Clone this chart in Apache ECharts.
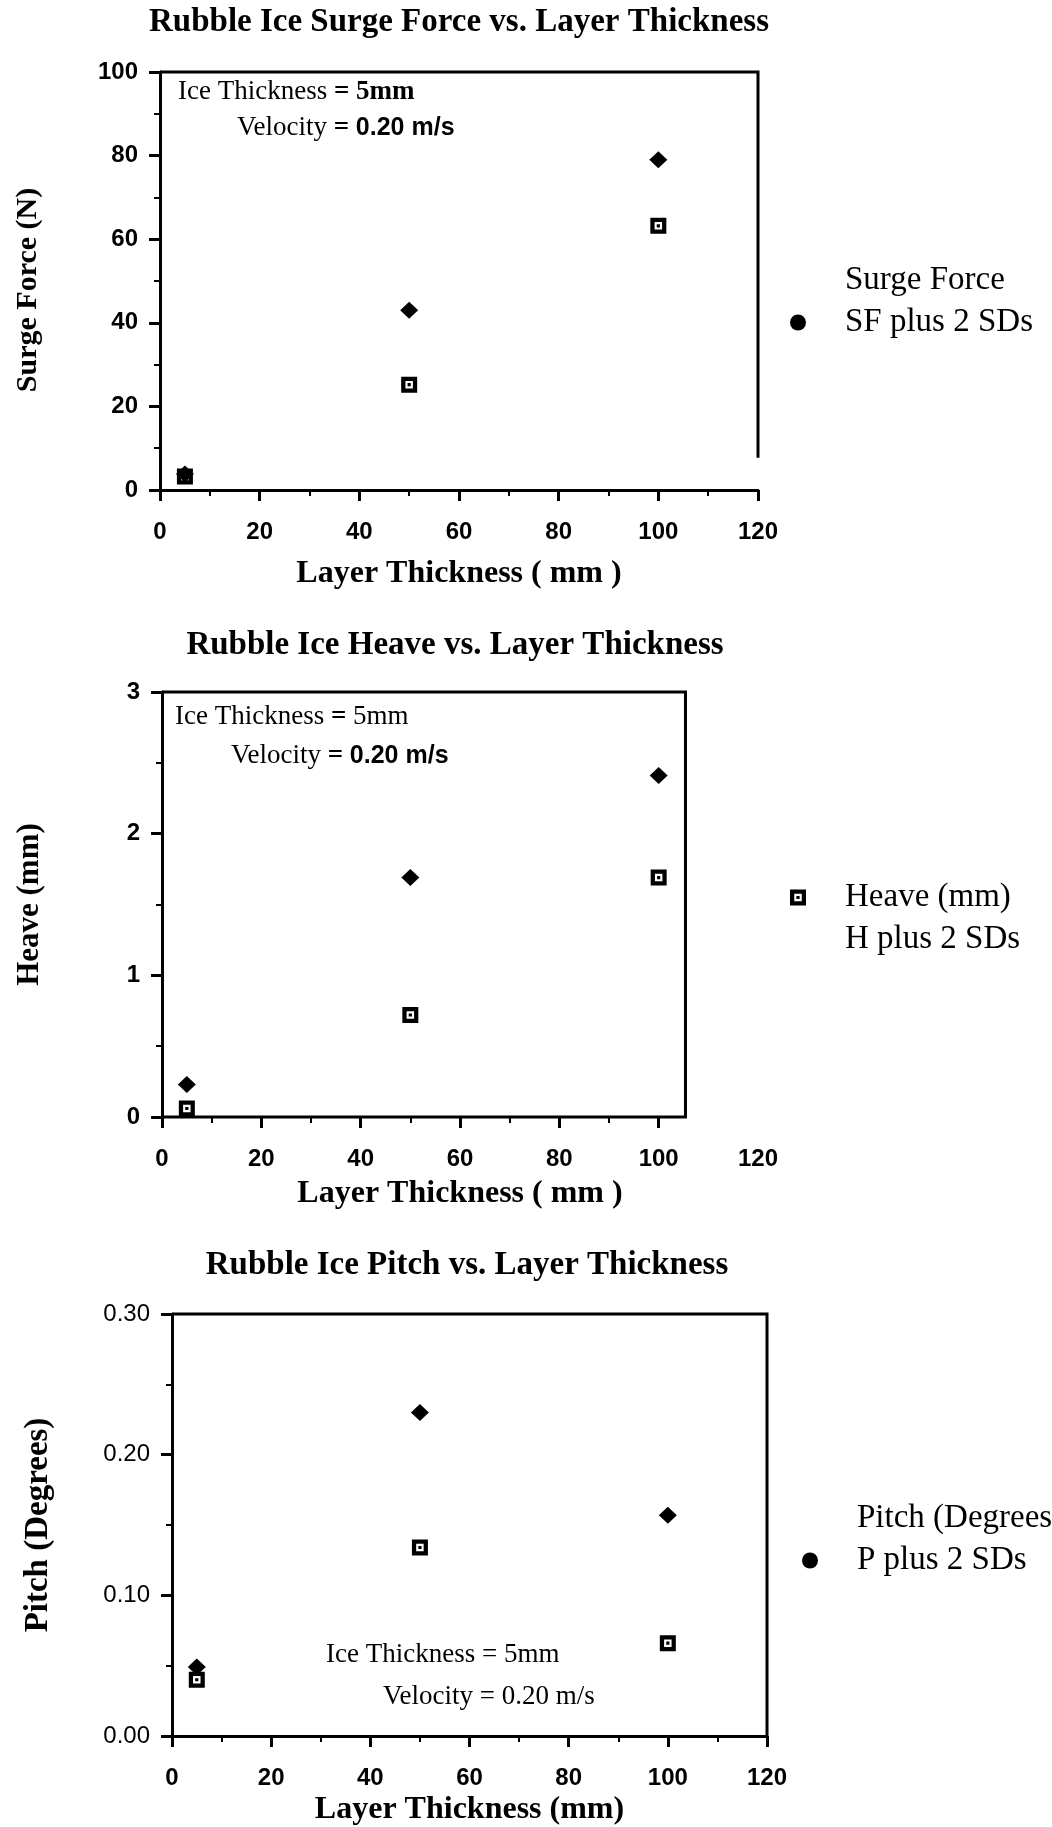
<!DOCTYPE html>
<html>
<head>
<meta charset="utf-8">
<script src="https://cdn.jsdelivr.net/npm/echarts@6/dist/echarts.min.js"></script>
<style>
  html, body { margin: 0; padding: 0; background: #fff; }
  #main { width: 1052px; height: 1827px; }
</style>
</head>
<body>
<div id="main"></div>
<script>
// values
const layerThickness = [5, 50, 100];
const surgeForce = [3.2, 25.2, 63.2];
const surgeForcePlus2SD = [3.8, 43, 79];
const heave = [0.06, 0.72, 1.69];
const heavePlus2SD = [0.23, 1.69, 2.41];
const pitch = [0.040, 0.134, 0.066];
const pitchPlus2SD = [0.049, 0.230, 0.157];

const heaveMajorTicks = [0, 20, 40, 60, 80, 100];
const heaveMinorTicks = [10, 30, 50, 70, 90];

const SERIF = "'Liberation Serif', 'Times New Roman', serif";
const SANS = "'Liberation Sans', Arial, sans-serif";
// open square with a dot in the middle
const SQUARE = 'path://M0 0H15V15H0Z M4 4V11H11V4Z M6 6H9V9H6Z';

const pairs = (xs, ys) => xs.map((x, i) => [x, ys[i]]);

function xAxisBase(grid, name, nameGap) {
    return {
        type: 'value', gridIndex: grid, min: 0, max: 120, interval: 20,
        axisLine: { lineStyle: { color: '#000', width: 3 } },
        axisTick: { length: 11, lineStyle: { color: '#000', width: 3 } },
        minorTick: { show: true, splitNumber: 2, length: 6, lineStyle: { color: '#000', width: 2 } },
        splitLine: { show: false },
        axisLabel: { margin: 30, color: '#000', fontFamily: SANS, fontWeight: 'bold', fontSize: 24 },
        name: name, nameLocation: 'middle', nameGap: nameGap,
        nameTextStyle: { color: '#000', fontFamily: SERIF, fontWeight: 'bold', fontSize: 32 }
    };
}

function yAxisBase(grid, max, interval, name, labelWeight, nameSize) {
    return {
        type: 'value', gridIndex: grid, min: 0, max: max, interval: interval,
        axisLine: { show: true, lineStyle: { color: '#000', width: 3 } },
        axisTick: { show: true, length: 11, lineStyle: { color: '#000', width: 3 } },
        minorTick: { show: true, splitNumber: 2, length: 6, lineStyle: { color: '#000', width: 2 } },
        splitLine: { show: false },
        axisLabel: { margin: 22, color: '#000', fontFamily: SANS, fontWeight: labelWeight, fontSize: 24 },
        name: name, nameLocation: 'middle', nameGap: 117,
        nameTextStyle: { color: '#000', fontFamily: SERIF, fontWeight: 'bold', fontSize: nameSize }
    };
}

function legendBase(left, top, items) {
    return {
        orient: 'vertical', left: left, top: top, itemWidth: 16, itemHeight: 16, itemGap: 9,
        selectedMode: false, data: items,
        textStyle: { color: '#000', fontFamily: SERIF, fontSize: 33, lineHeight: 33, padding: [0, 0, 0, 34] }
    };
}

function titleBase(text, center, top) {
    return {
        text: text, left: center, top: top, textAlign: 'center', padding: 0,
        textStyle: { color: '#000', fontFamily: SERIF, fontWeight: 'bold', fontSize: 33 }
    };
}

const squareStyle = { symbol: SQUARE, symbolSize: 16, itemStyle: { color: '#000', opacity: 1 } };
const diamondStyle = { symbol: 'diamond', symbolSize: [18, 17], itemStyle: { color: '#000', opacity: 1 } };

const surgeY = yAxisBase(0, 100, 20, 'Surge Force (N)', 'bold', 30);
surgeY.nameTextStyle.padding = [0, 18, 0, 0];

const heaveX = xAxisBase(1, 'Layer Thickness ( mm )', 61);
heaveX.axisLine = { show: false };
heaveX.minorTick = { show: false };
heaveX.axisTick = { length: 11, lineStyle: { color: '#000', width: 3 }, customValues: heaveMajorTicks };
const heaveMinorX = {
    type: 'value', gridIndex: 1, min: 0, max: 120, position: 'bottom',
    axisLine: { show: false }, axisLabel: { show: false }, splitLine: { show: false },
    axisTick: { length: 6, lineStyle: { color: '#000', width: 2 }, customValues: heaveMinorTicks }
};

const pitchY = yAxisBase(2, 0.3, 0.1, 'Pitch (Degrees)', 'normal', 33);
pitchY.axisLabel.formatter = v => v.toFixed(2);

const chart = echarts.init(document.getElementById('main'));
chart.setOption({
    animation: false,
    backgroundColor: '#fff',
    title: [
        titleBase('Rubble Ice Surge Force vs. Layer Thickness', 459, 6),
        titleBase('Rubble Ice Heave vs. Layer Thickness', 455, 629),
        titleBase('Rubble Ice Pitch vs. Layer Thickness', 467, 1249)
    ],
    grid: [
        { left: 160, top: 72, width: 598, height: 418 },
        { left: 162, top: 692, width: 596, height: 425 },
        { left: 172, top: 1314, width: 595, height: 424 }
    ],
    xAxis: [
        xAxisBase(0, 'Layer Thickness ( mm )', 68),
        heaveX,
        xAxisBase(2, 'Layer Thickness (mm)', 58),
        heaveMinorX
    ],
    yAxis: [
        surgeY,
        yAxisBase(1, 3, 1, 'Heave (mm)', 'bold', 31),
        pitchY
    ],
    legend: [
        legendBase(785, 259, [
            { name: 'Surge Force', icon: 'none' },
            { name: 'SF plus 2 SDs', icon: 'circle' }
        ]),
        legendBase(785, 876, [
            { name: 'Heave (mm)', icon: SQUARE },
            { name: 'H plus 2 SDs', icon: 'none' }
        ]),
        legendBase(797, 1497, [
            { name: 'Pitch (Degrees', icon: 'none' },
            { name: 'P plus 2 SDs', icon: 'circle' }
        ])
    ],
    series: [
        Object.assign({ type: 'scatter', name: 'Surge Force', xAxisIndex: 0, yAxisIndex: 0, data: pairs(layerThickness, surgeForce) }, squareStyle),
        Object.assign({ type: 'scatter', name: 'SF plus 2 SDs', xAxisIndex: 0, yAxisIndex: 0, data: pairs(layerThickness, surgeForcePlus2SD) }, diamondStyle),
        Object.assign({ type: 'scatter', name: 'Heave (mm)', xAxisIndex: 1, yAxisIndex: 1, data: pairs(layerThickness, heave) }, squareStyle),
        Object.assign({ type: 'scatter', name: 'H plus 2 SDs', xAxisIndex: 1, yAxisIndex: 1, data: pairs(layerThickness, heavePlus2SD) }, diamondStyle),
        Object.assign({ type: 'scatter', name: 'Pitch (Degrees', xAxisIndex: 2, yAxisIndex: 2, data: pairs(layerThickness, pitch) }, squareStyle),
        Object.assign({ type: 'scatter', name: 'P plus 2 SDs', xAxisIndex: 2, yAxisIndex: 2, data: pairs(layerThickness, pitchPlus2SD) }, diamondStyle)
    ]
});

// frame lines of each plot box, placed through the axes
function frame(gridIndex, pts) {
    return {
        type: 'polyline', silent: true,
        shape: { points: pts.map(p => chart.convertToPixel({ gridIndex: gridIndex }, p)) },
        style: { stroke: '#000', lineWidth: 3, fill: null }
    };
}

function note(x, y, text, rich, size) {
    return {
        type: 'text', x: x, y: y, silent: true,
        style: {
            text: text, fill: '#000', fontFamily: SERIF, fontSize: size,
            verticalAlign: 'middle', align: 'left', rich: rich
        }
    };
}

const boldSerif = { fontFamily: SERIF, fontWeight: 'bold', fontSize: 27 };
const boldSans = { fontFamily: SANS, fontWeight: 'bold', fontSize: 25 };
const plain = { fontFamily: SERIF, fontSize: 27 };

chart.setOption({
    graphic: [
        frame(0, [[0, 100], [120, 100], [120, 7.7]]),
        frame(1, [[0, 3], [105.4, 3], [105.4, 0], [0, 0]]),
        frame(2, [[0, 0.3], [120, 0.3], [120, 0]]),
        note(178, 92, '{p|Ice Thickness }{b|= 5mm}', { p: plain, b: boldSerif }, 27),
        note(237, 128, '{p|Velocity }{b|= }{s|0.20 m/s}', { p: plain, b: boldSerif, s: boldSans }, 27),
        note(175, 717, '{p|Ice Thickness }{b|=}{p| 5mm}', { p: plain, b: boldSerif }, 27),
        note(231, 756, '{p|Velocity }{b|= }{s|0.20 m/s}', { p: plain, b: boldSerif, s: boldSans }, 27),
        note(326, 1655, 'Ice Thickness = 5mm', null, 27),
        note(383, 1697, 'Velocity = 0.20 m/s', null, 27)
    ]
});
</script>
</body>
</html>
